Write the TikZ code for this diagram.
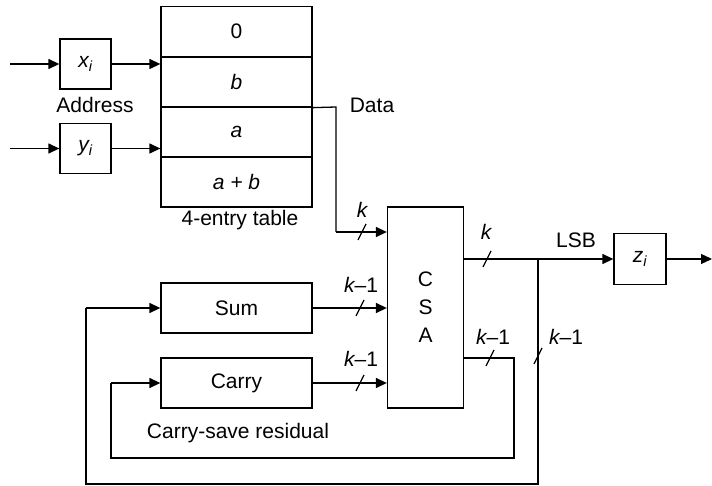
\documentclass[tikz,border=0pt]{standalone}
\usepackage{fontspec}
\setmainfont{Liberation Sans}
\usetikzlibrary{arrows.meta}
\begin{document}
\begin{tikzpicture}[x=1pt,y=-1pt,
  every node/.style={font=\fontsize{21}{28}\selectfont, inner sep=0pt},
  box/.style={draw, line width=1.3pt, minimum width=#1, minimum height=50pt},
  wire/.style={line width=1.3pt},
  arr/.style={wire, -{Triangle[length=11pt,width=10pt]}},
  slash/.style={line width=1.2pt},
  lbl/.style={anchor=center}]
\useasboundingbox (0,0) rectangle (712,486);
% table
\node[box=151pt] (t0)  at (236.5,31.5) {0};
\node[box=151pt] (tb)  at (236.5,82)   {\itshape b};
\node[box=151pt] (ta)  at (236.5,132)  {\itshape a};
\node[box=151pt] (tab) at (236.5,182)  {\itshape a + b};
\node[lbl] (ttl) at (240,220) {4-entry table};
% address registers
\node[box=51pt] (xi) at (85.5,64) {\itshape x\textsubscript{i}};
\node[box=51pt] (yi) at (85.5,148.5) {\itshape y\textsubscript{i}};
\node[lbl] (addr) at (95,105) {Address};
\coordinate (xin) at (10,64);
\coordinate (yin) at (10,148.5);
\draw[arr] (xin) -- (xi.west);
\draw[arr] (yin) -- (yi.west);
\draw[arr] (xi.east) -- (xi.east -| tb.west);
\draw[arr] (yi.east) -- (yi.east -| ta.west);
% CSA
\node[draw, line width=1.3pt, minimum width=76pt, minimum height=201pt, align=center] (csa) at (425.5,307.5) {C\\S\\A};
% Sum / Carry
\node[box=151pt] (sum) at (236.5,308) {Sum};
\node[box=151pt] (car) at (236.5,383) {Carry};
\node[lbl] (csr) at (238,433) {Carry-save residual};
% z_i
\node[box=52pt, minimum height=51pt] (zi) at (640,259) {\itshape z\textsubscript{i}};
% Data line
\coordinate (d1) at (336,107);
\coordinate (d2) at (336,232);
\node[lbl] (data) at (372,105.5) {Data};
\draw[wire] (tb.south east) -- (d1) -- (d2);
\draw[arr] (d2) -- (d2 -| csa.west);
% inputs to CSA
\draw[arr] (sum.east) -- (sum.east -| csa.west);
\draw[arr] (car.east) -- (car.east -| csa.west);
% output
\coordinate (o1) at (463,259);
\coordinate (br) at (538,259);
\draw[arr] (o1 -| csa.east) -- (zi.west);
\coordinate (zout) at (712,259);
\draw[arr] (zi.east) -- (zout);
\node[lbl] (lsb) at (576,240) {LSB};
% outer loop
\coordinate (b1) at (538,484);
\coordinate (b2) at (86,484);
\coordinate (b3) at (86,308);
\draw[wire] (br) -- (b1) -- (b2) -- (b3);
\draw[arr] (b3) -- (sum.west);
% lower loop
\coordinate (c0) at (464,358);
\coordinate (c1) at (514,358);
\coordinate (c2) at (514,458);
\coordinate (c3) at (111,458);
\coordinate (c4) at (111,383);
\draw[wire] (c0 -| csa.east) -- (c1) -- (c2) -- (c3) -- (c4);
\draw[arr] (c4) -- (car.west);
% slashes
\coordinate (s1) at (362,232);
\coordinate (s2) at (360,308);
\coordinate (s3) at (360,383);
\coordinate (s4) at (487,259);
\coordinate (s5) at (490,358);
\coordinate (s6) at (538,356);
\foreach \n in {s1,s2,s3,s4,s5,s6}{
  \draw[slash] ([shift={(-4,8)}]\n) -- ([shift={(4,-8)}]\n);
}
% labels
\node[lbl] (k1) at (362,210) {\itshape k};
\node[lbl] (k2) at (361,285) {{\itshape k}–1};
\node[lbl] (k3) at (361,359) {{\itshape k}–1};
\node[lbl] (k4) at (486,232) {\itshape k};
\node[lbl] (k5) at (493,337) {{\itshape k}–1};
\node[lbl] (k6) at (566,337) {{\itshape k}–1};
\end{tikzpicture}
\end{document}
